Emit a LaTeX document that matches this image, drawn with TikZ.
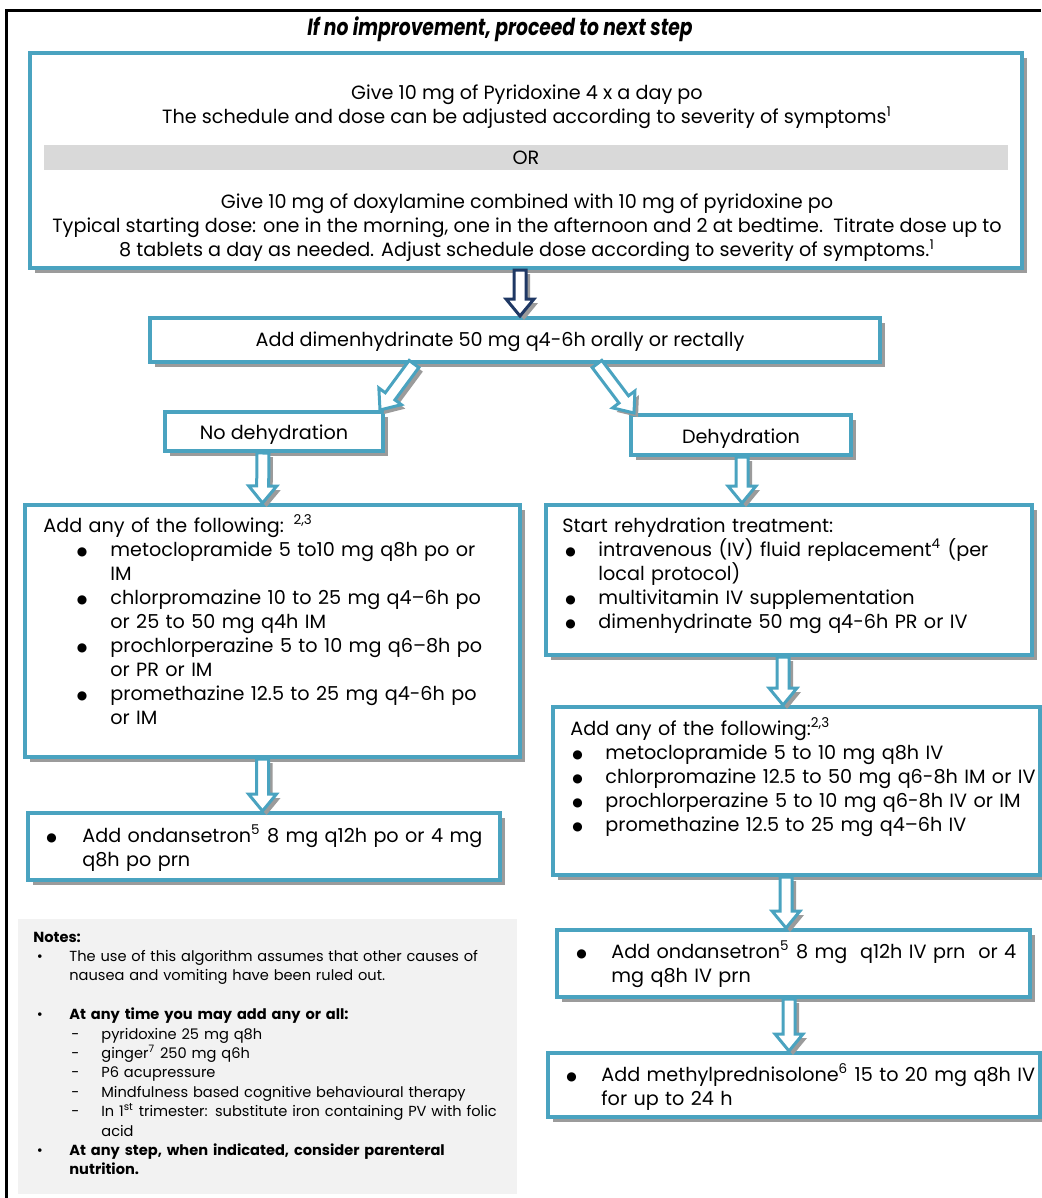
\documentclass[tikz,border=0pt]{standalone}
\usepackage{fontspec}
\setmainfont{Poppins}
\newfontfamily\titlefont[FakeStretch=0.8]{Poppins}
\newfontfamily\symfont{DejaVu Sans}
\usetikzlibrary{calc,shadows}

\definecolor{tealc}{RGB}{74,163,192}
\definecolor{shadowc}{RGB}{155,155,155}
\definecolor{navyc}{RGB}{31,56,100}
\definecolor{bandc}{RGB}{217,217,217}
\definecolor{notec}{RGB}{242,242,242}

% bullet line with hanging indent: [symbol]{symbol offset}{text indent}{text}
\newcommand{\bigbullet}{\raisebox{0.4pt}{\symfont\fontsize{6}{6}\selectfont ●}}
\newcommand{\bline}[4][\bigbullet]{\hangindent=#3\hangafter=1\makebox[#3][l]{\hspace*{#2}#1}#4\par}
\newcommand{\bitem}[4][\bigbullet]{\par\noindent\bline[#1]{#2}{#3}{#4}}

% hollow block arrow from #2 to #3
\newcommand{\flowarrow}[3][tealc]{%
  \coordinate (fa-s) at (#2);
  \coordinate (fa-e) at (#3);
  \coordinate (fa-n) at ($(fa-e)!8.5pt!(fa-s)$);
  \coordinate (fa-1) at ($(fa-s)!3pt!90:(fa-e)$);
  \coordinate (fa-2) at ($(fa-n)!3pt!90:(fa-e)$);
  \coordinate (fa-3) at ($(fa-n)!7pt!90:(fa-e)$);
  \coordinate (fa-4) at ($(fa-n)!7pt!-90:(fa-e)$);
  \coordinate (fa-5) at ($(fa-n)!3pt!-90:(fa-e)$);
  \coordinate (fa-6) at ($(fa-s)!3pt!-90:(fa-e)$);
  \fill[shadowc] ($(fa-1)+(2pt,-2pt)$) -- ($(fa-2)+(2pt,-2pt)$) -- ($(fa-3)+(2pt,-2pt)$)
    -- ($(fa-e)+(2pt,-2pt)$) -- ($(fa-4)+(2pt,-2pt)$) -- ($(fa-5)+(2pt,-2pt)$)
    -- ($(fa-6)+(2pt,-2pt)$) -- cycle;
  \draw[#1, fill=white, line width=1.5pt] (fa-1) -- (fa-2) -- (fa-3) -- (fa-e)
    -- (fa-4) -- (fa-5) -- (fa-6) -- cycle;
}

\begin{document}
\begin{tikzpicture}[x=0.5pt, y=-0.5pt,
  box/.style={draw=tealc, line width=2pt, fill=white, inner sep=0pt,
    font=\fontsize{9.6}{12}\selectfont,
    drop shadow={shadow xshift=2.5pt, shadow yshift=-2.5pt, fill=shadowc, opacity=1}},
  boxtext/.style={anchor=base west, inner sep=0pt, align=left, text width=240pt,
    font=\fontsize{9.6}{12}\selectfont},
  midtext/.style={inner sep=0pt, align=center, font=\fontsize{9.6}{12}\selectfont},
  notetext/.style={anchor=base west, inner sep=0pt, align=left, text width=240pt,
    font=\fontsize{7.3}{9.7}\selectfont}]
\useasboundingbox (0,0) rectangle (1041,1198);

% frame and heading
\draw[line width=1.5pt] (6,1198) -- (6,11) -- (1041,11);
\node[font=\titlefont\bfseries\itshape\fontsize{11.7}{13}\selectfont] (title) at (500,29)
  {If no improvement, proceed to next step};

% first step
\node[box, minimum width=496pt, minimum height=107.5pt] (topbox) at (526,160.5) {};
\node[fill=bandc, minimum width=482pt, minimum height=12.5pt, inner sep=0pt,
  font=\fontsize{9.6}{12}\selectfont] (orband) at (526,157.5) {OR};
\node[midtext] (pyrtxt) at (527,107) {Give 10 mg of Pyridoxine 4 x a day po\\
  The schedule and dose can be adjusted according to severity of symptoms\textsuperscript{1}};
\node[midtext] (doxtxt) at (527,228) {Give 10 mg of doxylamine combined with 10 mg of pyridoxine po\\
  Typical starting dose: one in the morning, one in the afternoon and 2 at bedtime.\ \ Titrate dose up to\\
  8 tablets a day as needed. Adjust schedule dose according to severity of symptoms.\textsuperscript{1}};

\node[box, minimum width=365pt, minimum height=22pt] (dimenbox) at (515,340) {};
\node[midtext] (dimentxt) at (500,342) {Add dimenhydrinate 50 mg q4-6h orally or rectally};
\node[box, minimum width=109pt, minimum height=19.5pt] (nohyd) at (274,431.5) {};
\node[midtext] (nohydtxt) at (274,435) {No dehydration};
\node[box, minimum width=110pt, minimum height=20pt] (hyd) at (741,435) {};
\node[midtext] (hydtxt) at (741,439) {Dehydration};

% no dehydration branch
\node[box, minimum width=247.5pt, minimum height=126pt] (oralbox) at (272.5,631) {};
\node[boxtext] (oraltxt) at (43,532) {Add any of the following: \textsuperscript{2,3}
  \bitem{16.75pt}{33.5pt}{metoclopramide 5 to10 mg q8h po or\newline IM}
  \bitem{16.75pt}{33.5pt}{chlorpromazine 10 to 25 mg q4--6h po\newline or 25 to 50 mg q4h IM}
  \bitem{16.75pt}{33.5pt}{prochlorperazine 5 to 10 mg q6--8h po\newline or PR or IM}
  \bitem{16.75pt}{33.5pt}{promethazine 12.5 to 25 mg q4-6h po\newline or IM}};
\node[box, minimum width=236pt, minimum height=33.5pt] (ondpobox) at (264,846.5) {};
\node[boxtext] (ondpotxt) at (46,842)
  {\bline{0pt}{18pt}{Add ondansetron\textsuperscript{5} 8 mg q12h po or 4 mg\newline q8h po prn}};

% notes
\node[fill=notec, minimum width=249.5pt, minimum height=137.5pt, inner sep=0pt] (notesbox) at (267.5,1056.5) {};
\node[notetext] (notestxt) at (33,942) {\textbf{Notes:}
  \bitem[\textbullet]{1.75pt}{18pt}{The use of this algorithm assumes that other causes of\newline nausea and vomiting have been ruled out.}\vspace{9.7pt}
  \bitem[\textbullet]{1.75pt}{18pt}{\textbf{At any time you may add any or all:}}
  \bitem[-]{19pt}{34pt}{pyridoxine 25 mg q8h}
  \bitem[-]{19pt}{34pt}{ginger\textsuperscript{7} 250 mg q6h}
  \bitem[-]{19pt}{34pt}{P6 acupressure}
  \bitem[-]{19pt}{34pt}{Mindfulness based cognitive behavioural therapy}
  \bitem[-]{19pt}{34pt}{In 1\textsuperscript{st} trimester: substitute iron containing PV with folic\newline acid}
  \bitem[\textbullet]{1.75pt}{18pt}{\textbf{At any step, when indicated, consider parenteral\newline nutrition.}}};

% dehydration branch
\node[box, minimum width=243pt, minimum height=75pt] (rehydbox) at (789,580) {};
\node[boxtext] (rehydtxt) at (562,532) {Start rehydration treatment:
  \bitem{1.5pt}{18pt}{intravenous (IV) fluid replacement\textsuperscript{4} (per\newline local protocol)}
  \bitem{1.5pt}{18pt}{multivitamin IV supplementation}
  \bitem{1.5pt}{18pt}{dimenhydrinate 50 mg q4-6h PR or IV}};
\node[box, minimum width=243.5pt, minimum height=84pt] (ivbox) at (796.5,791) {};
\node[boxtext] (ivtxt) at (570,735) {Add any of the following:\textsuperscript{2,3}
  \bitem{1pt}{17.5pt}{metoclopramide 5 to 10 mg q8h IV}
  \bitem{1pt}{17.5pt}{chlorpromazine 12.5 to 50 mg q6-8h IM or IV}
  \bitem{1pt}{17.5pt}{prochlorperazine 5 to 10 mg q6-8h IV or IM}
  \bitem{1pt}{17.5pt}{promethazine 12.5 to 25 mg q4--6h IV}};
\node[box, minimum width=236.5pt, minimum height=33.5pt] (ondivbox) at (793.5,963.5) {};
\node[boxtext] (ondivtxt) at (576,958)
  {\bline{0pt}{17.5pt}{Add ondansetron\textsuperscript{5} 8 mg\ \ q12h IV prn\ \ or 4\newline mg q8h IV prn}};
\node[box, minimum width=246pt, minimum height=32pt] (methbox) at (794,1085) {};
\node[boxtext] (methtxt) at (566,1081)
  {\bline{0pt}{17.5pt}{Add methylprednisolone\textsuperscript{6} 15 to 20 mg q8h IV\newline for up to 24 h}};

% arrows
\flowarrow[navyc]{$(topbox.south)+(-6,0)$}{$(dimenbox.north)+(5,0)$}
\flowarrow{$(dimenbox.south)+(-101,0)$}{$(nohyd.north)+(106,0)$}
\flowarrow{$(dimenbox.south)+(82,0)$}{$(hyd.north)+(-107,0)$}
\flowarrow{$(nohyd.south)+(-11,0)$}{$(oralbox.north)+(-10,0)$}
\flowarrow{$(oralbox.south)+(-10,0)$}{$(ondpobox.north)+(-1.5,0)$}
\flowarrow{$(hyd.south)+(1,0)$}{$(rehydbox.north)+(-47,0)$}
\flowarrow{$(rehydbox.south)+(-6,0)$}{$(ivbox.north)+(-13.5,0)$}
\flowarrow{$(ivbox.south)+(-10.5,0)$}{$(ondivbox.north)+(-7.5,0)$}
\flowarrow{$(ondivbox.south)+(-4.5,0)$}{$(methbox.north)+(-5,0)$}
\end{tikzpicture}
\end{document}
